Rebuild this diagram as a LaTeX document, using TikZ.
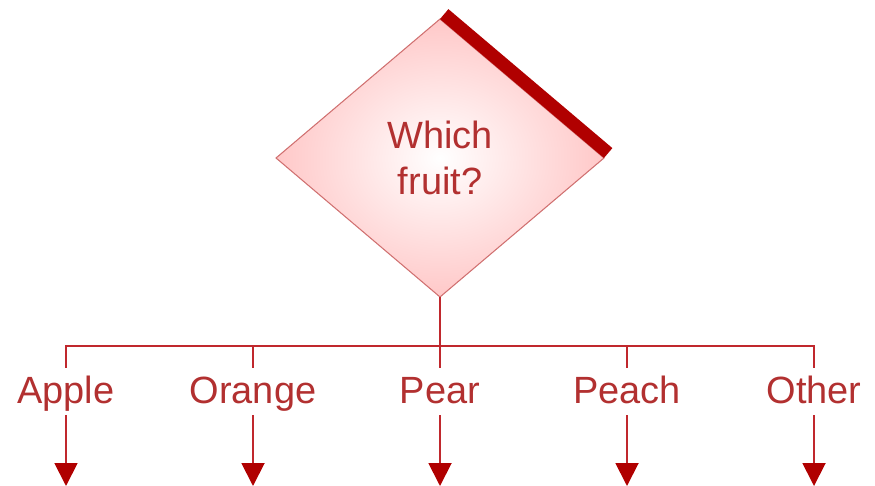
\documentclass[tikz,border=0pt]{standalone}
\usepackage{fontspec}
\setmainfont{Liberation Sans}
\usetikzlibrary{arrows.meta,shapes.geometric}
\definecolor{FruitLine}{HTML}{C0282D}
\definecolor{FruitDark}{HTML}{B00000}
\definecolor{FruitText}{HTML}{B23030}
\definecolor{FruitEdge}{HTML}{D07070}
\definecolor{FruitFill}{HTML}{FFC8C8}
\begin{document}
\begin{tikzpicture}[x=0.02cm, y=-0.02cm,
   font=\fontsize{21.6}{26.6}\selectfont, text=FruitText,
   wire/.style={draw=FruitLine, line width=1.1pt},
   choice/.style={diamond, draw=FruitEdge, line width=0.6pt, inner sep=0pt, outer sep=0pt,
                  minimum width=6.56cm, minimum height=5.56cm, align=center,
                  shade, inner color=white, outer color=FruitFill},
   fruit/.style={anchor=base, inner sep=0pt, text height=0.7cm, text depth=0.24cm}]
  \useasboundingbox (0,0) rectangle (875,486);
  \node[choice] (q) at (440,158) {Which\\fruit?};
  % dunkler Rand oben rechts
  \fill[FruitDark] (q.north) -- (q.east) -- ([shift={(8.4,-9.9)}]q.east)
    -- ([shift={(8.4,-9.9)}]q.north) -- cycle;
  \node[fruit] (apple)  at (66,403)  {Apple};
  \node[fruit] (orange) at (253,403) {Orange};
  \node[fruit] (pear)   at (440,403) {Pear};
  \node[fruit] (peach)  at (627,403) {Peach};
  \node[fruit] (other)  at (814,403) {Other};
  \coordinate (bar) at (440,346);
  \draw[wire] (q.south) -- (bar);
  \draw[wire] (apple.north) -- (apple.north |- bar) -- (other.north |- bar) -- (other.north);
  \draw[wire] (orange.north) -- (orange.north |- bar);
  \draw[wire] (pear.north) -- (bar);
  \draw[wire] (peach.north) -- (peach.north |- bar);
  % Pfeile nach unten
  \foreach \f in {apple,orange,pear,peach,other}
    \draw[wire, -{Triangle[length=0.46cm, width=0.46cm, FruitDark]}]
      (\f.south) -- (\f.south |- 0,486);
\end{tikzpicture}
\end{document}
